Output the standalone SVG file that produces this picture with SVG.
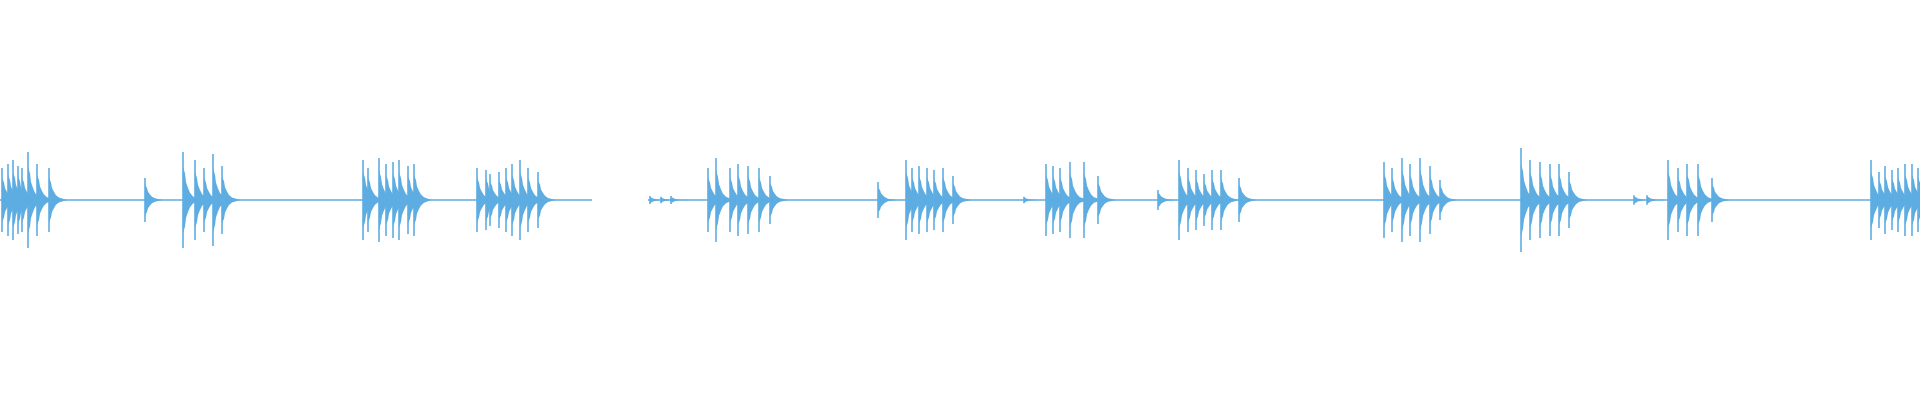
<svg xmlns="http://www.w3.org/2000/svg" xmlns:xlink="http://www.w3.org/1999/xlink" width="1920" height="400" viewBox="0 0 1920 400">
<style>.w{fill:#5DADE2;stroke:#5DADE2}.b{stroke:#5DADE2;stroke-width:1.5;fill:none}</style>
<defs>
<g id="s" class="w"><path d="M0 -40V40" stroke-width="1.6"/><polygon stroke="none" points="0,-28 2,-22 3,-15 5,-10 7,-6 10,-3 14,-1.5 18,0 14,1.5 10,3 7,6 5,10 3,15 2,22 0,28"/></g>
</defs>
<rect width="1920" height="400" fill="#fff"/>
<g id="baseline"><path class="b" d="M0 200H592M648 200H1920"/></g>
<g id="wave">
<use href="#s" transform="translate(2,200) scale(1,0.8)"/><use href="#s" transform="translate(8,200) scale(1,0.9)"/><use href="#s" transform="translate(13,200) scale(1,1)"/><use href="#s" transform="translate(18,200) scale(1,0.85)"/><use href="#s" transform="translate(22,200) scale(1,0.8)"/><use href="#s" transform="translate(28,200) scale(1,1.2)"/><use href="#s" transform="translate(37,200) scale(1,0.9)"/><use href="#s" transform="translate(49,200) scale(1,0.8)"/>
<use href="#s" transform="translate(145,200) scale(1,0.55)"/>
<use href="#s" transform="translate(183,200) scale(1,1.2)"/><use href="#s" transform="translate(195,200) scale(1,1)"/><use href="#s" transform="translate(204,200) scale(1,0.8)"/><use href="#s" transform="translate(213,200) scale(1,1.15)"/><use href="#s" transform="translate(222,200) scale(1,0.85)"/>
<use href="#s" transform="translate(363,200) scale(1,1)"/><use href="#s" transform="translate(368,200) scale(1,0.8)"/><use href="#s" transform="translate(379,200) scale(1,1.05)"/><use href="#s" transform="translate(386,200) scale(1,0.9)"/><use href="#s" transform="translate(393,200) scale(1,0.95)"/><use href="#s" transform="translate(399,200) scale(1,1)"/><use href="#s" transform="translate(408,200) scale(1,0.85)"/><use href="#s" transform="translate(414,200) scale(1,0.9)"/>
<use href="#s" transform="translate(477,200) scale(1,0.8)"/><use href="#s" transform="translate(486,200) scale(1,0.75)"/><use href="#s" transform="translate(490,200) scale(1,0.65)"/><use href="#s" transform="translate(499,200) scale(1,0.7)"/><use href="#s" transform="translate(506,200) scale(1,0.8)"/><use href="#s" transform="translate(512,200) scale(1,0.9)"/><use href="#s" transform="translate(520,200) scale(1,1)"/><use href="#s" transform="translate(528,200) scale(1,0.8)"/><use href="#s" transform="translate(538,200) scale(1,0.7)"/>
<use href="#s" transform="translate(650,200) scale(1,0.1)"/><use href="#s" transform="translate(661,200) scale(1,0.08)"/><use href="#s" transform="translate(671,200) scale(1,0.1)"/>
<use href="#s" transform="translate(708,200) scale(1,0.8)"/><use href="#s" transform="translate(716,200) scale(1,1.05)"/><use href="#s" transform="translate(730,200) scale(1,0.8)"/><use href="#s" transform="translate(738,200) scale(1,0.9)"/><use href="#s" transform="translate(748,200) scale(1,0.85)"/><use href="#s" transform="translate(759,200) scale(1,0.8)"/><use href="#s" transform="translate(770,200) scale(1,0.6)"/>
<use href="#s" transform="translate(878,200) scale(1,0.45)"/>
<use href="#s" transform="translate(906,200) scale(1,1)"/><use href="#s" transform="translate(912,200) scale(1,0.8)"/><use href="#s" transform="translate(919,200) scale(1,0.85)"/><use href="#s" transform="translate(927,200) scale(1,0.8)"/><use href="#s" transform="translate(934,200) scale(1,0.75)"/><use href="#s" transform="translate(943,200) scale(1,0.8)"/><use href="#s" transform="translate(953,200) scale(1,0.6)"/>
<use href="#s" transform="translate(1024,200) scale(1,0.08)"/>
<use href="#s" transform="translate(1046,200) scale(1,0.9)"/><use href="#s" transform="translate(1053,200) scale(1,0.85)"/><use href="#s" transform="translate(1060,200) scale(1,0.8)"/><use href="#s" transform="translate(1070,200) scale(1,0.95)"/><use href="#s" transform="translate(1084,200) scale(1,0.95)"/><use href="#s" transform="translate(1098,200) scale(1,0.6)"/>
<use href="#s" transform="translate(1158,200) scale(1,0.25)"/>
<use href="#s" transform="translate(1179,200) scale(1,1)"/><use href="#s" transform="translate(1188,200) scale(1,0.8)"/><use href="#s" transform="translate(1196,200) scale(1,0.75)"/><use href="#s" transform="translate(1204,200) scale(1,0.65)"/><use href="#s" transform="translate(1212,200) scale(1,0.75)"/><use href="#s" transform="translate(1221,200) scale(1,0.75)"/><use href="#s" transform="translate(1239,200) scale(1,0.55)"/>
<use href="#s" transform="translate(1384,200) scale(1,0.95)"/><use href="#s" transform="translate(1392,200) scale(1,0.8)"/><use href="#s" transform="translate(1402,200) scale(1,1.05)"/><use href="#s" transform="translate(1410,200) scale(1,0.9)"/><use href="#s" transform="translate(1420,200) scale(1,1.05)"/><use href="#s" transform="translate(1430,200) scale(1,0.85)"/><use href="#s" transform="translate(1440,200) scale(1,0.5)"/>
<use href="#s" transform="translate(1521,200) scale(1,1.3)"/><use href="#s" transform="translate(1530,200) scale(1,1)"/><use href="#s" transform="translate(1540,200) scale(1,0.95)"/><use href="#s" transform="translate(1550,200) scale(1,0.9)"/><use href="#s" transform="translate(1559,200) scale(1,0.9)"/><use href="#s" transform="translate(1569,200) scale(1,0.7)"/>
<use href="#s" transform="translate(1634,200) scale(1,0.12)"/><use href="#s" transform="translate(1647,200) scale(1,0.12)"/><use href="#s" transform="translate(1668,200) scale(1,1)"/><use href="#s" transform="translate(1678,200) scale(1,0.8)"/><use href="#s" transform="translate(1687,200) scale(1,0.9)"/><use href="#s" transform="translate(1698,200) scale(1,0.9)"/><use href="#s" transform="translate(1712,200) scale(1,0.55)"/>
<use href="#s" transform="translate(1871,200) scale(1,1)"/><use href="#s" transform="translate(1879,200) scale(1,0.7)"/><use href="#s" transform="translate(1885,200) scale(1,0.85)"/><use href="#s" transform="translate(1892,200) scale(1,0.75)"/><use href="#s" transform="translate(1898,200) scale(1,0.8)"/><use href="#s" transform="translate(1905,200) scale(1,0.9)"/><use href="#s" transform="translate(1912,200) scale(1,0.9)"/><use href="#s" transform="translate(1918,200) scale(1,0.8)"/>
</g>
</svg>
